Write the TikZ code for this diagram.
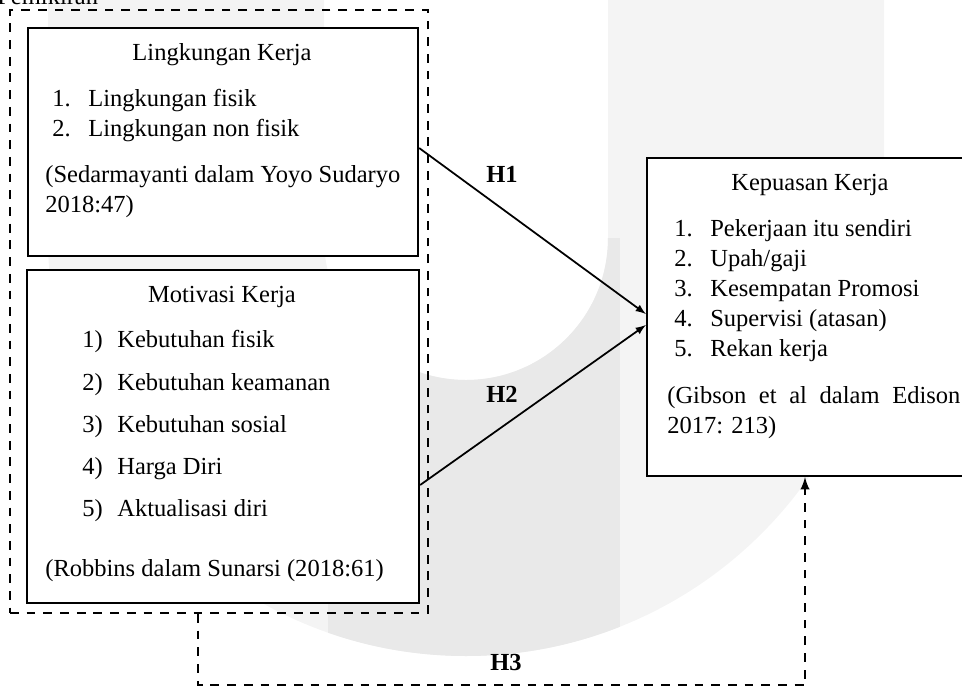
\documentclass[tikz,border=0pt]{standalone}
\usepackage{fontspec}
\setmainfont{Liberation Serif}
\usepackage{tikz}
\usetikzlibrary{arrows}
\usepackage{color}
\definecolor{wm-light}{RGB}{244,244,244}
\definecolor{wm-dark}{RGB}{233,233,233}

\begin{document}
\begin{tikzpicture}[font=\fontsize{13.95}{16}\selectfont]
    \tikzset{ box/.style={draw=black, line width=1.3pt, fill=white, inner sep=0pt } }
    \tikzset{ txt/.style={inner sep=0pt, anchor=base west } }
    \tikzset{ hyp/.style={inner sep=0pt, anchor=base, font=\fontsize{13.95}{16}\selectfont\bfseries } }
    \tikzset{ dsh/.style={dash pattern=on 5pt off 4.5pt } }

    \useasboundingbox (0.00, 0.00) rectangle (19.24, -13.76);

    % watermark
    \fill[wm-light] (0.96, 0.00) -- (0.96, -4.76) arc (180:360:8.36) -- (17.68, 0.00) -- (12.16, 0.00)
        -- (12.16, -4.76) arc (0:-180:2.84) -- (6.48, 0.00) -- cycle;
    \begin{scope}
        \clip (0.96, 0.00) -- (0.96, -4.76) arc (180:360:8.36) -- (17.68, 0.00) -- (12.16, 0.00)
            -- (12.16, -4.76) arc (0:-180:2.84) -- (6.48, 0.00) -- cycle;
        \fill[wm-dark] (6.56, -4.76) rectangle (12.40, -14.00);
    \end{scope}

    \node[txt] (title) at (-0.06, -0.08) {Pemikiran};

    \node[draw=black, line width=1.1pt, dsh, minimum width=8.36cm, minimum height=12.06cm] (frame) at (4.38, -6.23) {};

    \node[box, minimum width=7.80cm, minimum height=4.56cm] (lk) at (4.46, -2.84) {};
    \node[box, minimum width=7.84cm, minimum height=6.66cm] (mk) at (4.46, -8.73) {};
    \node[box, minimum width=6.66cm, minimum height=6.36cm] (kk) at (16.27, -6.34) {};

    % Lingkungan Kerja
    \node[txt, anchor=base] (lk-t) at (4.44, -1.20) {Lingkungan Kerja};
    \node[txt] (lk-n1) at (1.04, -2.12) {1.};
    \node[txt] (lk-i1) at (1.76, -2.12) {Lingkungan fisik};
    \node[txt] (lk-n2) at (1.04, -2.72) {2.};
    \node[txt] (lk-i2) at (1.76, -2.72) {Lingkungan non fisik};
    \node[txt] (lk-s1) at (0.90, -3.64) {\makebox[7.10cm][s]{(Sedarmayanti dalam Yoyo Sudaryo}};
    \node[txt] (lk-s2) at (0.90, -4.24) {2018:47)};

    % Motivasi Kerja
    \node[txt, anchor=base] (mk-t) at (4.44, -6.04) {Motivasi Kerja};
    \node[txt] (mk-n1) at (1.64, -6.94) {1)};
    \node[txt] (mk-i1) at (2.34, -6.94) {Kebutuhan fisik};
    \node[txt] (mk-n2) at (1.64, -7.80) {2)};
    \node[txt] (mk-i2) at (2.34, -7.80) {Kebutuhan keamanan};
    \node[txt] (mk-n3) at (1.64, -8.64) {3)};
    \node[txt] (mk-i3) at (2.34, -8.64) {Kebutuhan sosial};
    \node[txt] (mk-n4) at (1.64, -9.48) {4)};
    \node[txt] (mk-i4) at (2.34, -9.48) {Harga Diri};
    \node[txt] (mk-n5) at (1.64, -10.32) {5)};
    \node[txt] (mk-i5) at (2.34, -10.32) {Aktualisasi diri};
    \node[txt] (mk-s1) at (0.90, -11.52) {(Robbins dalam Sunarsi (2018:61)};

    % Kepuasan Kerja
    \node[txt, anchor=base] (kk-t) at (16.20, -3.80) {Kepuasan Kerja};
    \node[txt] (kk-n1) at (13.48, -4.72) {1.};
    \node[txt] (kk-i1) at (14.20, -4.72) {Pekerjaan itu sendiri};
    \node[txt] (kk-n2) at (13.48, -5.32) {2.};
    \node[txt] (kk-i2) at (14.20, -5.32) {Upah/gaji};
    \node[txt] (kk-n3) at (13.48, -5.92) {3.};
    \node[txt] (kk-i3) at (14.20, -5.92) {Kesempatan Promosi};
    \node[txt] (kk-n4) at (13.48, -6.52) {4.};
    \node[txt] (kk-i4) at (14.20, -6.52) {Supervisi (atasan)};
    \node[txt] (kk-n5) at (13.48, -7.12) {5.};
    \node[txt] (kk-i5) at (14.20, -7.12) {Rekan kerja};
    \node[txt] (kk-s1) at (13.34, -8.06) {\makebox[5.86cm][s]{(Gibson et al dalam Edison}};
    \node[txt] (kk-s2) at (13.34, -8.66) {2017: 213)};

    % hipotesis
    \node[hyp] (h1) at (10.04, -3.64) {H1};
    \node[hyp] (h2) at (10.04, -8.04) {H2};
    \node[hyp] (h3) at (10.12, -13.40) {H3};

    \coordinate (h3-low) at (10.00, -13.70);

    \draw[line width=1pt, -latex] ([yshift=-0.12cm]lk.east) -- ([yshift=0.06cm]kk.west);
    \draw[line width=1pt, -latex] ([yshift=-0.97cm]mk.east) -- ([yshift=-0.16cm]kk.west);
    \draw[line width=1.4pt, dsh, -latex] ([xshift=-0.42cm]frame.south) |- (h3-low) -| ([xshift=-0.17cm]kk.south);
\end{tikzpicture}
\end{document}
